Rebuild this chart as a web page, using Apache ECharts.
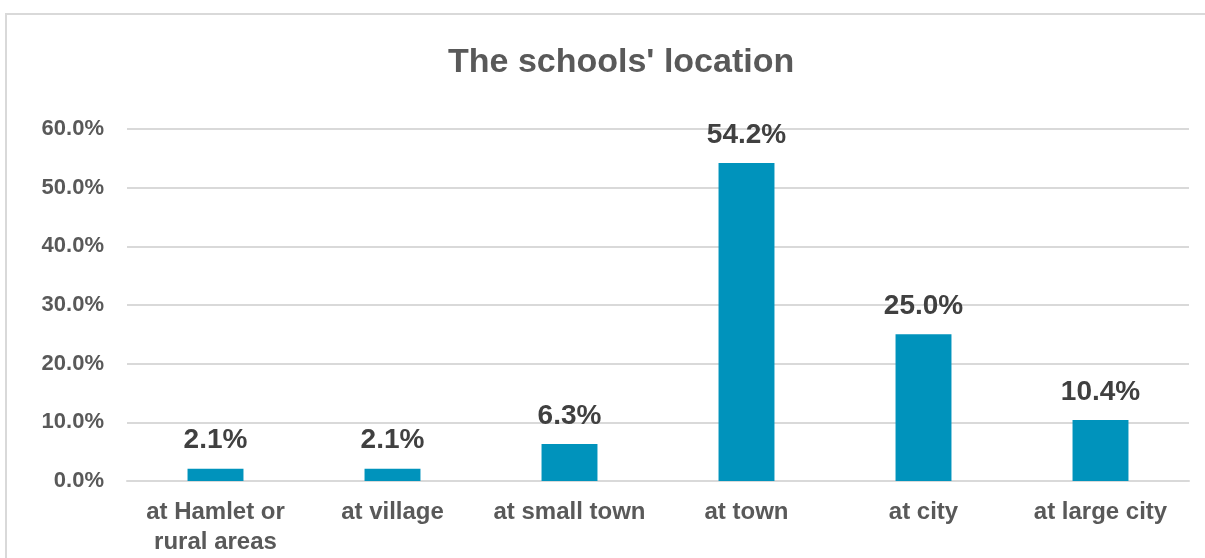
<!DOCTYPE html>
<html>
<head>
<meta charset="utf-8">
<script src="https://cdn.jsdelivr.net/npm/echarts@6/dist/echarts.min.js"></script>
<style>
  html, body { margin: 0; padding: 0; background: #ffffff; }
  #frame { position: absolute; left: 5px; top: 13px; width: 1300px; height: 700px;
           border: 2px solid #d9d9d9; box-sizing: border-box; }
  #chart { position: absolute; left: 0; top: 0; width: 1205px; height: 558px; }
</style>
</head>
<body>
<div id="frame"></div>
<div id="chart"></div>
<script>
// School location shares (percent)
const categories = ['at Hamlet or\nrural areas', 'at village', 'at small town', 'at town', 'at city', 'at large city'];
const shares = [2.1, 2.1, 6.3, 54.2, 25.0, 10.4];
const yTicks = { min: 0, max: 60, interval: 10 };

const FONT = 'Liberation Sans, Arial, sans-serif';

const chart = echarts.init(document.getElementById('chart'), null, { renderer: 'canvas' });
chart.setOption({
  animation: false,
  backgroundColor: 'transparent',
  title: {
    text: "The schools' location",
    left: 443,
    top: 41,
    textStyle: { fontFamily: FONT, fontSize: 34, fontWeight: 'bold', color: '#595959' }
  },
  grid: { left: 127, right: 16, top: 129, bottom: 77, outerBoundsMode: 'none' },
  xAxis: {
    type: 'category',
    data: categories,
    axisLine: { lineStyle: { color: '#d9d9d9', width: 2 } },
    axisTick: { show: false },
    axisLabel: {
      interval: 0,
      margin: 16,
      lineHeight: 30,
      fontFamily: FONT,
      fontSize: 24,
      fontWeight: 'bold',
      color: '#595959'
    }
  },
  yAxis: {
    type: 'value',
    min: yTicks.min,
    max: yTicks.max,
    interval: yTicks.interval,
    axisLine: { show: false },
    axisTick: { show: false },
    splitLine: { lineStyle: { color: '#d9d9d9', width: 2 } },
    axisLabel: {
      margin: 23,
      fontFamily: FONT,
      fontSize: 22,
      fontWeight: 'bold',
      color: '#595959',
      formatter: v => v.toFixed(1) + '%'
    }
  },
  series: [{
    type: 'bar',
    data: shares,
    barWidth: '31.6%',
    itemStyle: { color: '#0093bc' },
    label: {
      show: true,
      position: 'top',
      distance: 14,
      fontFamily: FONT,
      fontSize: 28,
      fontWeight: 'bold',
      color: '#404040',
      formatter: p => p.value.toFixed(1) + '%'
    }
  }]
});
</script>
</body>
</html>
